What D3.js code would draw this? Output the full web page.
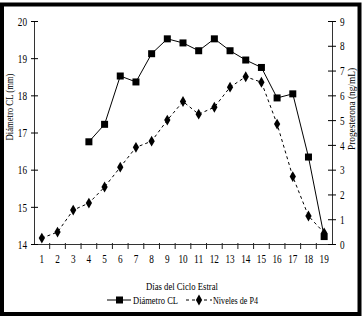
<!DOCTYPE html>
<html>
<head>
<meta charset="utf-8">
<script src="https://cdn.jsdelivr.net/npm/d3@7"></script>
<style>
  body { margin: 0; background: #fff; }
  svg text { font-family: "Liberation Serif", "Times New Roman", "DejaVu Serif", serif !important; fill: #000; }
</style>
</head>
<body>
<div id="chart"></div>
<script>
/* DATA */
const days = d3.range(1, 20);
const clDays = [4, 5, 6, 7, 8, 9, 10, 11, 12, 13, 14, 15, 16, 17, 18, 19];
const clValues = [16.75, 17.22, 18.52, 18.36, 19.12, 19.52, 19.41, 19.2, 19.52, 19.2, 18.95, 18.75, 17.93, 18.04, 16.34, 14.2];
const p4Values = [0.24, 0.48, 1.37, 1.65, 2.3, 3.1, 3.9, 4.15, 5.0, 5.75, 5.24, 5.52, 6.33, 6.75, 6.53, 4.84, 2.72, 1.13, 0.45];
const leftTicks = [14, 15, 16, 17, 18, 19, 20];
const rightTicks = d3.range(0, 10);

/* CONSTANTS */
const width = 363, height = 316;
const margin = { top: 21, bottom: 72, left: 34, right: 31 };

const svg = d3.select("#chart").append("svg")
  .attr("width", width)
  .attr("height", height);

// narrow glyphs like the original
const squeeze = sel => sel
  .attr("font-size", 13)
  .attr("textLength", function() { return this.textContent.length * 4.6; })
  .attr("lengthAdjust", "spacingAndGlyphs");

// frame
svg.append("rect")
  .attr("x", 2).attr("y", 4.5)
  .attr("width", 357.5).attr("height", 309.5)
  .attr("fill", "none").attr("stroke", "#000").attr("stroke-width", 4);

// SCALES
const xScale = d3.scaleBand()
  .domain(days)
  .range([margin.left, width - margin.right]);

const yLeft = d3.scaleLinear()
  .domain([14, 20])
  .range([height - margin.bottom, margin.top]);

const yRight = d3.scaleLinear()
  .domain([0, 9])
  .range([height - margin.bottom, margin.top]);

const cx = d => xScale(d) + xScale.bandwidth() / 2;

// AXES
const xAxis = d3.axisBottom(xScale).tickSize(0).tickPadding(10);
const xAxisGroup = svg.append("g")
  .attr("transform", `translate(0, ${height - margin.bottom})`)
  .call(xAxis);
xAxisGroup.selectAll("text").call(squeeze);

// band boundary ticks
svg.append("g").selectAll("line")
  .data(days.slice(1))
  .join("line")
  .attr("x1", d => xScale(d)).attr("x2", d => xScale(d))
  .attr("y1", height - margin.bottom - 1).attr("y2", height - margin.bottom + 5)
  .attr("stroke", "#222");

const yAxisL = d3.axisLeft(yLeft).tickValues(leftTicks).tickFormat(d3.format("d")).tickSize(3).tickPadding(4);
const yLeftGroup = svg.append("g")
  .attr("transform", `translate(${margin.left}, 0)`)
  .call(yAxisL);
yLeftGroup.selectAll(".tick line").attr("x2", 4).attr("x1", -3);
yLeftGroup.selectAll("text").call(squeeze);

const yAxisR = d3.axisRight(yRight).tickValues(rightTicks).tickFormat(d3.format("d")).tickSize(4).tickPadding(4);
const yRightGroup = svg.append("g")
  .attr("transform", `translate(${width - margin.right}, 0)`)
  .call(yAxisR);
yRightGroup.selectAll(".tick line").attr("x1", -4).attr("x2", 4);
yRightGroup.selectAll("text").call(squeeze);

svg.selectAll(".domain").attr("stroke", "#333");

// axis titles
svg.append("text")
  .attr("transform", "translate(13, 107) rotate(-90)")
  .attr("text-anchor", "middle")
  .attr("font-size", 11)
  .attr("textLength", 67).attr("lengthAdjust", "spacingAndGlyphs")
  .text("Diámetro CL (mm)");

svg.append("text")
  .attr("transform", "translate(355, 109) rotate(-90)")
  .attr("text-anchor", "middle")
  .attr("font-size", 11)
  .attr("textLength", 82).attr("lengthAdjust", "spacingAndGlyphs")
  .text("Progesterona (ng/mL)");

svg.append("text")
  .attr("x", 182).attr("y", 290)
  .attr("text-anchor", "middle")
  .attr("font-size", 11)
  .attr("textLength", 72).attr("lengthAdjust", "spacingAndGlyphs")
  .text("Días del Ciclo Estral");

// LINES
const clData = clDays.map((d, i) => ({ day: d, v: clValues[i] }));
const p4Data = days.map((d, i) => ({ day: d, v: p4Values[i] }));

svg.append("path")
  .datum(p4Data)
  .attr("fill", "none").attr("stroke", "#000").attr("stroke-width", 1)
  .attr("stroke-dasharray", "3,3")
  .attr("d", d3.line().x(d => cx(d.day)).y(d => yRight(d.v)));

svg.append("path")
  .datum(clData)
  .attr("fill", "none").attr("stroke", "#000").attr("stroke-width", 1)
  .attr("d", d3.line().x(d => cx(d.day)).y(d => yLeft(d.v)));

const diamond = d3.symbol().type(d3.symbolDiamond).size(34);
svg.append("g").selectAll("path")
  .data(p4Data)
  .join("path")
  .attr("d", diamond)
  .attr("transform", d => `translate(${cx(d.day)}, ${yRight(d.v)})`)
  .attr("fill", "#000");

svg.append("g").selectAll("rect")
  .data(clData)
  .join("rect")
  .attr("x", d => cx(d.day) - 3.5)
  .attr("y", d => yLeft(d.v) - 3.5)
  .attr("width", 7).attr("height", 7)
  .attr("fill", "#000");

// LEGEND
const legY = 300;
const legend = svg.append("g");
legend.append("line").attr("x1", 107).attr("x2", 131).attr("y1", legY).attr("y2", legY).attr("stroke", "#000");
legend.append("rect").attr("x", 116).attr("y", legY - 3.5).attr("width", 7).attr("height", 7).attr("fill", "#000");
legend.append("text").attr("x", 133).attr("y", legY + 4).attr("font-size", 11)
  .attr("textLength", 45).attr("lengthAdjust", "spacingAndGlyphs").text("Diámetro CL");
legend.append("line").attr("x1", 186).attr("x2", 212).attr("y1", legY).attr("y2", legY)
  .attr("stroke", "#000").attr("stroke-dasharray", "3,3");
legend.append("path").attr("d", diamond).attr("transform", `translate(199, ${legY})`).attr("fill", "#000");
legend.append("text").attr("x", 213).attr("y", legY + 4).attr("font-size", 11)
  .attr("textLength", 45).attr("lengthAdjust", "spacingAndGlyphs").text("Niveles de P4");
</script>
</body>
</html>
